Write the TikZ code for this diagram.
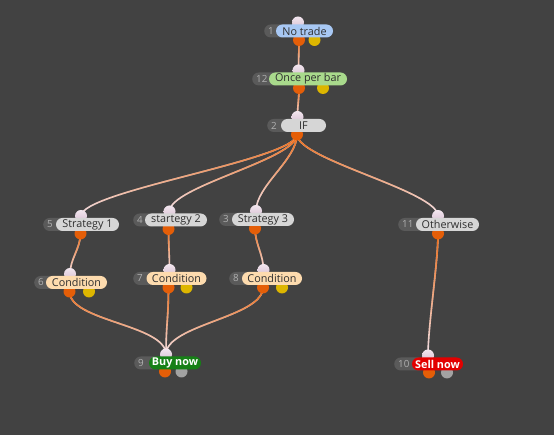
\documentclass[tikz,border=0pt]{standalone}
\usepackage{fontspec}
\setmainfont{Open Sans}
\usetikzlibrary{fadings}

\definecolor{bgdark}{HTML}{424242}
\definecolor{numgray}{HTML}{5A5A5A}
\definecolor{numtext}{HTML}{B0B0B0}
\definecolor{pillgray}{HTML}{D6D6D6}
\definecolor{pilltext}{HTML}{2E2E2E}
\definecolor{pillblue}{HTML}{A8C8F4}
\definecolor{pillgreen}{HTML}{A9DA8C}
\definecolor{pillpeach}{HTML}{FDDBAE}
\definecolor{buygreen}{HTML}{168016}
\definecolor{sellred}{HTML}{E20000}
\definecolor{portintop}{HTML}{F2E6EE}
\definecolor{portin}{HTML}{D8C0D4}
\definecolor{portorange}{HTML}{E45E08}
\definecolor{portyellow}{HTML}{DDB600}
\definecolor{portgray}{HTML}{A2A2A2}
\definecolor{wirepale}{HTML}{F2E2EA}
\definecolor{wireorange}{HTML}{EE6A12}

\tikzfading[name=wirefade, top color=transparent!0, middle color=transparent!10,
  bottom color=transparent!100]

\pgfdeclarelayer{bglayer}
\pgfdeclarelayer{wires}
\pgfsetlayers{bglayer,wires,main}

\begin{document}
\begin{tikzpicture}[x=1pt,y=1pt,
  inport/.style={circle,top color=portintop,bottom color=portin,minimum size=12pt,inner sep=0pt},
  outport/.style={circle,fill=portorange,minimum size=12pt,inner sep=0pt},
  auxport/.style={outport,fill=portyellow},
  endport/.style={outport,fill=portgray},
  numbox/.style={anchor=west,fill=numgray,rounded corners=6.5pt,minimum height=13pt,
    inner xsep=4pt,inner ysep=0pt,align=left,text=numtext,font=\fontsize{9.8}{10}\selectfont},
  pill/.style={fill=pillgray,rounded corners=6.5pt,minimum height=13pt,inner sep=0pt,
    text=pilltext,font=\fontsize{10.8}{12}\selectfont},
  signal/.style={pill,text=white,font=\fontsize{10.8}{12}\selectfont\bfseries},
  wire/.style={line width=1.6pt,draw=wirepale,postaction={draw=wireorange,path fading=wirefade}}]
  \begin{pgfonlayer}{bglayer}
    \fill[bgdark] (0,0) rectangle (554,435);
  \end{pgfonlayer}

  % ports
  \node[inport] (n1i) at (298,412.5) {};
  \node[outport] (n1o) at (299,395) {};
  \node[auxport] (n1a) at (314.5,395) {};
  \node[inport] (n12i) at (298.5,364.5) {};
  \node[outport] (n12o) at (299,347) {};
  \node[auxport] (n12a) at (323,347) {};
  \node[inport] (n2i) at (297.5,318) {};
  \node[outport] (n2o) at (297,300.5) {};
  \node[inport] (n5i) at (81,219) {};
  \node[outport] (n5o) at (80.5,201.5) {};
  \node[inport] (n4i) at (169.5,223.5) {};
  \node[outport] (n4o) at (168.5,206) {};
  \node[inport] (n3i) at (256,224) {};
  \node[outport] (n3o) at (255,206.5) {};
  \node[inport] (n11i) at (438,219) {};
  \node[outport] (n11o) at (438,201.5) {};
  \node[inport] (n6i) at (70,161) {};
  \node[outport] (n6o) at (69.5,143.5) {};
  \node[auxport] (n6a) at (89,143.5) {};
  \node[inport] (n7i) at (169.5,165) {};
  \node[outport] (n7o) at (168.5,147.5) {};
  \node[auxport] (n7a) at (186.5,147.5) {};
  \node[inport] (n8i) at (263.5,165) {};
  \node[outport] (n8o) at (263,147.5) {};
  \node[auxport] (n8a) at (282,147.5) {};
  \node[inport] (n9i) at (166,80.5) {};
  \node[outport] (n9o) at (165,63.5) {};
  \node[endport] (n9a) at (181.5,63.5) {};
  \node[inport] (n10i) at (428,79.5) {};
  \node[outport] (n10o) at (429,62.5) {};
  \node[endport] (n10a) at (447,62.5) {};

  % blocks
  \node[numbox,text width=17pt] (b1) at (264,404) {1};
  \node[pill,fill=pillblue,minimum width=57pt] (notrade) at (304.5,404) {No trade};
  \node[numbox,text width=22pt] (b12) at (252,356) {12};
  \node[pill,fill=pillgreen,minimum width=78pt] (perbar) at (308,356) {Once per bar};
  \node[numbox,text width=19pt] (b2) at (267,309.5) {2};
  \node[pill,minimum width=45pt] (iff) at (303.5,309.5) {IF};
  \node[numbox,text width=18pt] (b5) at (43,210.5) {5};
  \node[pill,minimum width=63pt] (strat1) at (87.5,210.5) {Strategy 1};
  \node[numbox,text width=17pt] (b4) at (133,215) {4};
  \node[pill,minimum width=62pt] (strat2) at (176,215) {startegy 2};
  \node[numbox,text width=18pt] (b3) at (219,215.5) {3};
  \node[pill,minimum width=62pt] (strat3) at (263,215.5) {Strategy 3};
  \node[numbox,text width=23pt] (b11) at (398,210.5) {11};
  \node[pill,minimum width=63pt] (otherwise) at (447.5,210.5) {Otherwise};
  \node[numbox,text width=17pt] (b6) at (34,152.5) {6};
  \node[pill,fill=pillpeach,minimum width=61pt] (cond1) at (76.5,152.5) {Condition};
  \node[numbox,text width=19pt] (b7) at (133,156.5) {7};
  \node[pill,fill=pillpeach,minimum width=60pt] (cond2) at (176.5,156.5) {Condition};
  \node[numbox,text width=18pt] (b8) at (229,156.5) {8};
  \node[pill,fill=pillpeach,minimum width=60pt] (cond3) at (272,156.5) {Condition};
  \node[numbox,text width=20pt] (b9) at (134,72) {9};
  \node[signal,fill=buygreen,minimum width=52pt] (buy) at (175,72) {Buy now};
  \node[numbox,text width=23pt] (b10) at (394,71) {10};
  \node[signal,fill=sellred,minimum width=51pt] (sell) at (437.5,71) {Sell now};

  % wires
  \begin{pgfonlayer}{wires}
    \draw[wire] (n1o.center) .. controls +(0,-12) and +(0,12) .. (n12i.center);
    \draw[wire] (n12o.center) .. controls +(0,-12) and +(0,12) .. (n2i.center);
    \draw[wire] (n2o.center) .. controls +(0,-25) and +(0,25) .. (n5i.center);
    \draw[wire] (n2o.center) .. controls +(0,-25) and +(0,25) .. (n4i.center);
    \draw[wire] (n2o.center) .. controls +(0,-25) and +(0,25) .. (n3i.center);
    \draw[wire] (n2o.center) .. controls +(0,-25) and +(0,25) .. (n11i.center);
    \draw[wire] (n5o.center) .. controls +(0,-15) and +(0,15) .. (n6i.center);
    \draw[wire] (n4o.center) .. controls +(0,-15) and +(0,15) .. (n7i.center);
    \draw[wire] (n3o.center) .. controls +(0,-15) and +(0,15) .. (n8i.center);
    \draw[wire] (n11o.center) .. controls +(0,-30) and +(0,30) .. (n10i.center);
    \draw[wire] (n6o.center) .. controls +(0,-30) and +(0,30) .. (n9i.center);
    \draw[wire] (n7o.center) .. controls +(0,-30) and +(0,30) .. (n9i.center);
    \draw[wire] (n8o.center) .. controls +(0,-30) and +(0,30) .. (n9i.center);
  \end{pgfonlayer}
\end{tikzpicture}
\end{document}
